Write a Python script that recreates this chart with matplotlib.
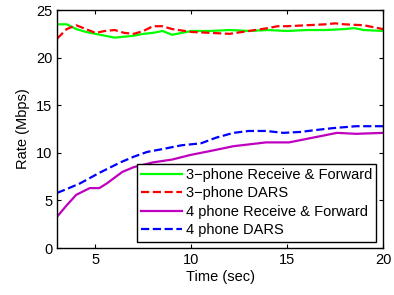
import numpy as np
import matplotlib
matplotlib.use("Agg")
import matplotlib.pyplot as plt

plt.rcParams['font.family'] = ['Liberation Sans', 'DejaVu Sans']

# 3-phone receive & forward
t_g = [3, 3.5, 4, 4.5, 5, 5.5, 6, 6.5, 7, 7.5, 8, 8.5, 9, 9.5, 10, 11, 12, 13, 14, 15, 16, 17, 18, 18.5, 19, 20]
r_g = [23.5, 23.5, 23.0, 22.7, 22.5, 22.3, 22.1, 22.2, 22.3, 22.5, 22.6, 22.8, 22.4, 22.6, 22.8, 22.8, 22.9, 22.8, 22.9, 22.8, 22.9, 22.9, 23.0, 23.1, 22.9, 22.8]
# 3-phone DARS
t_r = [3, 3.5, 4, 4.5, 5, 5.5, 6, 6.5, 7, 7.5, 8, 8.5, 9, 10, 11, 12, 13, 14, 14.5, 15, 16, 17, 17.5, 18, 19, 20]
r_r = [22.0, 23.0, 23.4, 23.0, 22.6, 22.8, 22.9, 22.6, 22.5, 22.8, 23.3, 23.3, 23.0, 22.7, 22.6, 22.5, 22.8, 23.1, 23.3, 23.3, 23.4, 23.5, 23.6, 23.5, 23.4, 23.0]
# 4 phone receive & forward
t_m = [3, 3.5, 4, 4.7, 5.2, 5.6, 6.4, 7, 8, 9, 10, 10.5, 11, 12.2, 13.9, 15.1, 16.6, 17.6, 18.6, 20]
r_m = [3.3, 4.5, 5.6, 6.3, 6.3, 6.8, 8.0, 8.5, 9.0, 9.3, 9.8, 10.0, 10.2, 10.7, 11.1, 11.1, 11.7, 12.1, 12.0, 12.1]
# 4 phone DARS
t_b = [3, 3.5, 4.2, 5.2, 6.3, 7, 7.7, 8.5, 9.5, 10.5, 11.3, 12.2, 13, 13.9, 14.8, 15.7, 16.5, 17.4, 18.6, 20]
r_b = [5.8, 6.2, 6.8, 7.9, 9.0, 9.6, 10.1, 10.4, 10.8, 11.0, 11.6, 12.1, 12.3, 12.3, 12.1, 12.2, 12.4, 12.6, 12.8, 12.8]

fig = plt.figure(figsize=(3.94, 2.95), dpi=100)
ax = fig.add_axes([0.145, 0.159, 0.827, 0.807])

ax.plot(t_g, r_g, '-', color=(0, 1, 0), lw=1.6, label='3\u2212phone Receive & Forward')
ax.plot(t_r, r_r, '--', color=(1, 0, 0), lw=1.6, label='3\u2212phone DARS')
ax.plot(t_m, r_m, '-', color=(0.75, 0, 0.75), lw=1.6, label='4 phone Receive & Forward')
ax.plot(t_b, r_b, '--', color=(0, 0, 1), lw=1.6, label='4 phone DARS')

ax.set_xlim(3, 20)
ax.set_ylim(0, 25)
ax.set_xticks([5, 10, 15, 20])
ax.set_yticks([0, 5, 10, 15, 20, 25])
ax.tick_params(direction='in', top=True, right=True, labelsize=10.5, length=3)
for s in ax.spines.values():
    s.set_linewidth(1.0)
ax.set_xlabel('Time (sec)', fontsize=10.5, labelpad=2)
ax.set_ylabel('Rate (Mbps)', fontsize=10.5, labelpad=4)

leg = ax.legend(loc='lower right', fontsize=10.5, fancybox=False, framealpha=1,
                edgecolor='black', handlelength=2.8, borderaxespad=0.45,
                labelspacing=0.3, borderpad=0.3, handletextpad=0.25)
leg.get_frame().set_linewidth(1.0)

fig.savefig('out.png', dpi=100)
